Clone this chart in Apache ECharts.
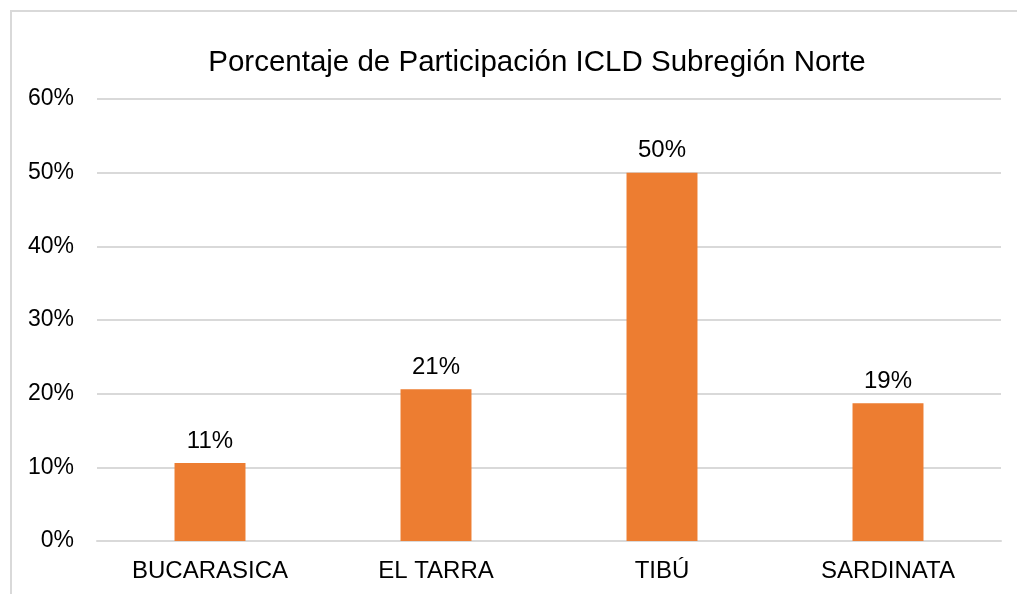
<!DOCTYPE html>
<html>
<head>
<meta charset="utf-8">
<script src="https://cdn.jsdelivr.net/npm/echarts@6/dist/echarts.min.js"></script>
<style>
  html, body { margin: 0; padding: 0; background: #fff; }
  #chart { width: 1017px; height: 594px; }
</style>
</head>
<body>
<div id="chart"></div>
<script>
// municipios de la subregión norte
var municipios = ['BUCARASICA', 'EL TARRA', 'TIBÚ', 'SARDINATA'];
// participación ICLD (%)
var participacion = [10.6, 20.6, 50.0, 18.7];
var yTicks = [0, 10, 20, 30, 40, 50, 60];

var chart = echarts.init(document.getElementById('chart'));
var font = '"Liberation Sans", Arial, sans-serif';

chart.setOption({
  backgroundColor: '#fff',
  animation: false,
  title: {
    text: 'Porcentaje de Participación ICLD Subregión Norte',
    left: 532,
    textAlign: 'center',
    top: 43,
    textStyle: { fontFamily: font, fontSize: 29.5, fontWeight: 'normal', color: '#000' }
  },
  graphic: [{
    type: 'rect',
    shape: { x: 11, y: 11, width: 1100, height: 700 },
    style: { fill: 'none', stroke: '#d9d9d9', lineWidth: 2 },
    silent: true
  }],
  grid: { left: 97, right: 16, top: 99, bottom: 53 },
  xAxis: {
    type: 'category',
    data: municipios,
    axisLine: { show: true, lineStyle: { color: '#d9d9d9', width: 2 } },
    axisTick: { show: false },
    axisLabel: { fontFamily: font, fontSize: 24, color: '#000', margin: 18 }
  },
  yAxis: {
    type: 'value',
    min: yTicks[0],
    max: yTicks[yTicks.length - 1],
    interval: 10,
    axisLine: { show: false },
    axisTick: { show: false },
    splitLine: { lineStyle: { color: '#d9d9d9', width: 2 } },
    axisLabel: {
      fontFamily: font, fontSize: 23, color: '#000', margin: 23,
      formatter: function (v) { return v + '%'; }
    }
  },
  series: [{
    type: 'bar',
    data: participacion,
    barWidth: '31.4%',
    itemStyle: { color: '#ED7D31' },
    label: {
      show: true,
      position: 'top',
      distance: 10,
      fontFamily: font,
      fontSize: 24,
      color: '#000',
      formatter: function (p) { return Math.round(p.value) + '%'; }
    }
  }]
});
</script>
</body>
</html>
